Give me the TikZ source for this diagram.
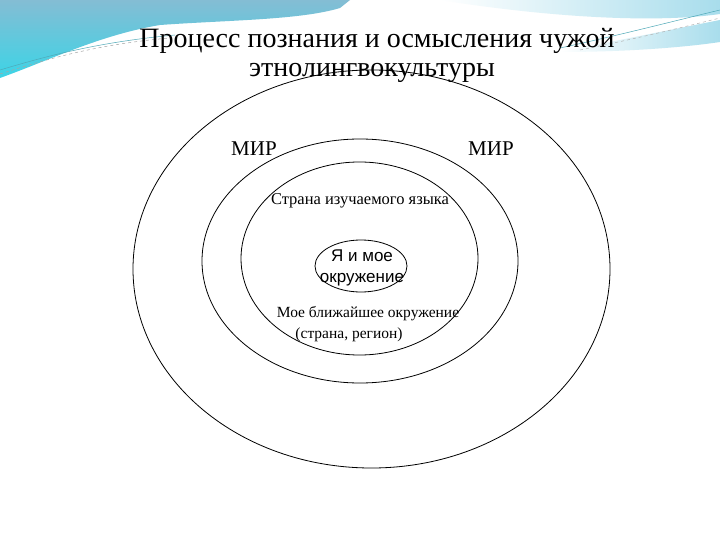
\documentclass[tikz,border=0pt]{standalone}
\usepackage{fontspec}
\setmainfont{Liberation Serif}
\newfontfamily\sansf{Liberation Sans}
\usetikzlibrary{shapes.geometric}
\definecolor{bgblue}{HTML}{84BDD4}
\definecolor{bgcyan}{HTML}{3CD4E6}
\definecolor{lightcyan}{HTML}{A8DDEC}
\definecolor{tealline}{HTML}{4FA9B8}
\begin{document}
\begin{tikzpicture}[x=1pt,y=-1pt,
  ring/.style={ellipse, draw=black, line width=0.8pt, inner sep=0pt},
  titletext/.style={inner sep=0pt, font=\fontsize{28}{30}\selectfont},
  mirtext/.style={inner sep=0pt, font=\fontsize{21}{24}\selectfont},
  labeltext/.style={inner sep=0pt, font=\fontsize{16.5}{19}\selectfont},
  smalltext/.style={inner sep=0pt, font=\fontsize{15.5}{18}\selectfont},
  sanstext/.style={inner sep=0pt, align=center, font=\sansf\fontsize{17}{21}\selectfont}]
\useasboundingbox (0,0) rectangle (720,540);
% background
\fill[white] (0,0) rectangle (720,540);
\shade[top color=bgblue, bottom color=bgcyan]
  (0,0) -- (350,0) -- (340,8) .. controls (300,20) and (230,20) .. (160,25)
  .. controls (100,35) and (50,60) .. (0,78) -- cycle;
\shade[left color=white, right color=lightcyan]
  (440,0) -- (720,0) -- (720,14) .. controls (650,24) and (540,16) .. (440,0) -- cycle;
\shade[left color=white, right color=lightcyan]
  (560,52) .. controls (620,40) and (680,28) .. (720,20) -- (720,42)
  .. controls (680,48) and (620,52) .. (560,52) -- cycle;
\draw[gray!70, dashed, line width=0.5pt] (0,74) .. controls (50,58) and (100,44) .. (170,38);
\draw[tealline, line width=0.5pt] (0,70) .. controls (50,55) and (100,42) .. (175,35);
\draw[tealline, line width=0.5pt] (560,48) .. controls (620,35) and (670,22) .. (720,10);
\draw[gray!60, dashed, line width=0.5pt] (580,50) .. controls (630,40) and (680,28) .. (720,18);
% rings
\node[ring, minimum width=477pt, minimum height=398pt] (world) at (371.5,269) {};
\node[ring, minimum width=316pt, minimum height=244pt] (country) at (360,261) {};
\node[ring, minimum width=237pt, minimum height=193pt] (region) at (359.5,258.5) {};
\node[ring, minimum width=92pt, minimum height=52pt] (me) at (361,266) {};
% texts
\node[titletext] (t1) at (377,41) {Процесс познания и осмысления чужой};
\node[titletext] (t2) at (372,73) {этнолингвокультуры};
\node[mirtext] (mirl) at (254,149) {МИР};
\node[mirtext] (mirr) at (491,149) {МИР};
\node[labeltext] (lang) at (360,201) {Страна изучаемого языка};
\node[sanstext] (ya) at (362,268) {Я и мое\\окружение};
\node[smalltext] (near1) at (368,314) {Мое ближайшее окружение};
\node[smalltext] (near2) at (349,335) {(страна, регион)};
\end{tikzpicture}
\end{document}
